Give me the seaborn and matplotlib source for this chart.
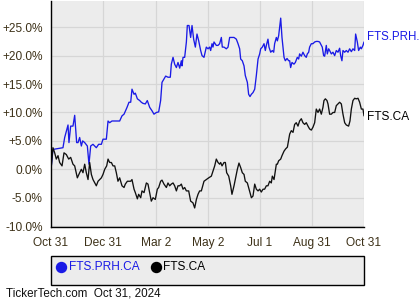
import matplotlib
matplotlib.use("Agg")
import matplotlib.pyplot as plt
from matplotlib.lines import Line2D
from matplotlib.patches import Rectangle
import pandas as pd
import seaborn as sns

# ---------------- data (percent change since Oct 31, 2023) ----------------
start_date = "2023-10-31"
end_date = "2024-10-31"

prh_name = "FTS.PRH.CA"
fts_name = "FTS.CA"

prh_days = [0, 2.3, 14.0, 16.0, 19.1, 19.9, 21.0, 23.0, 25.7, 27.7, 30.0, 31.6, 33.5, 35.5, 37.0, 39.4,
            42.5, 44.4, 46.4, 49.1, 53.0, 55.7, 58.9, 60.8, 64.7, 66.7, 68.6, 71.3, 80.3, 83.0, 85.4, 88.9,
            91.2, 93.2, 94.7, 97.1, 98.6, 101.0, 103.7, 105.6, 107.6, 110.3, 112.6, 115.4, 118.1, 120.4,
            123.2, 125.9, 128.2, 129.8, 132.1, 134.1, 136.8, 139.5, 140.7, 142.7, 144.6, 146.6, 148.5,
            150.5, 152.4, 153.2, 154.4, 156.3, 158.3, 159.4, 161.4, 163.3, 164.9, 166.8, 168.8, 170.7,
            172.7, 175.0, 176.6, 178.9, 181.6, 183.6, 185.5, 186.7, 188.3, 189.4, 190.6, 193.3, 195.3,
            197.2, 199.2, 200.3, 202.3, 205.0, 207.0, 208.9, 211.6, 214.0, 216.7, 218.7, 220.6, 221.8,
            223.7, 225.7, 227.2, 229.6, 231.1, 232.7, 234.3, 236.2, 238.2, 240.1, 242.1, 244.0, 245.2,
            247.1, 249.1, 250.6, 251.8, 253.7, 254.9, 256.9, 258.8, 260.4, 261.5, 263.5, 264.7, 266.2,
            267.4, 268.6, 270.1, 272.5, 274.0, 276.0, 277.9, 279.1, 280.2, 281.8, 284.1, 285.7, 288.0,
            289.6, 290.7, 292.7, 294.6, 296.6, 298.5, 299.7, 301.3, 302.4, 304.4, 306.3, 308.3, 310.2,
            312.2, 314.1, 316.1, 317.2, 318.8, 320.0, 321.9, 323.1, 324.7, 325.8, 327.8, 329.7, 331.7,
            333.6, 335.6, 337.5, 338.7, 340.2, 341.4, 343.4, 345.3, 347.3, 349.2, 351.2, 353.1, 355.1,
            356.2, 358.2, 359.7, 361.7, 362.9, 364.8, 366.0]
prh_vals = [0.0, 3.5, 3.8, 5.6, 7.4, 7.8, 4.7, 7.6, 7.6, 9.5, 4.7, 4.7, 5.6, 4.1, 5.0, 4.7,
            4.1, 0.9, 4.1, 4.4, 3.8, 4.4, 4.4, 5.3, 5.3, 8.5, 8.2, 8.5, 8.5, 9.4, 9.7, 10.9,
            11.8, 11.8, 14.1, 13.2, 13.4, 12.4, 12.1, 11.8, 11.6, 11.5, 12.1, 10.9, 10.3, 9.7,
            10.0, 10.1, 12.1, 15.3, 15.9, 16.4, 16.2, 16.2, 18.5, 19.7, 18.5, 17.9, 18.8,
            17.8, 19.1, 18.2, 19.7, 19.7, 22.4, 25.3, 25.3, 23.2, 25.3, 22.9, 21.5, 23.8,
            22.6, 20.9, 20.0, 19.7, 21.5, 21.2, 21.5, 20.9, 22.1, 21.5, 22.4, 21.8, 21.8,
            22.1, 23.2, 21.5, 21.5, 21.2, 21.5, 23.2, 23.2, 23.2, 22.9, 22.1, 21.2, 19.4,
            19.1, 18.2, 16.5, 15.3, 13.2, 12.8, 13.2, 13.5, 14.1, 16.5, 19.4, 20.3, 21.2,
            21.5, 22.1, 20.9, 21.8, 22.9, 21.5, 20.6, 20.9, 20.6, 22.1, 23.2, 22.6, 23.5,
            25.0, 26.6, 23.2, 19.7, 19.1, 19.5, 19.1, 19.1, 17.9, 18.8, 18.5, 18.8, 19.7,
            19.4, 20.3, 19.9, 20.6, 20.0, 19.7, 20.3, 20.6, 21.5, 22.1, 22.1, 22.4, 22.5,
            22.5, 22.4, 21.8, 21.5, 20.0, 19.9, 21.8, 20.3, 21.2, 20.9, 20.3, 20.6, 20.0,
            20.9, 20.6, 21.3, 20.0, 19.1, 20.9, 20.6, 20.9, 20.6, 21.2, 20.7, 21.2, 20.9,
            23.8, 22.4, 20.9, 21.5, 21.2, 21.8, 22.4]

fts_days = [0, 2.3, 4.3, 6.2, 8.2, 10.1, 12.9, 15.2, 17.9, 20.7, 23.0, 25.7, 27.7, 30.8, 33.5, 35.5,
            37.4, 39.4, 41.3, 43.3, 45.2, 47.2, 49.1, 53.0, 55.0, 56.9, 58.9, 60.8, 62.8, 65.1, 66.7,
            68.6, 70.6, 72.5, 74.5, 76.4, 78.3, 80.3, 83.0, 85.4, 86.9, 89.3, 93.2, 94.7, 97.1, 98.6,
            101.0, 102.5, 104.9, 106.4, 108.8, 111.5, 113.4, 115.4, 117.3, 119.3, 122.0, 124.3, 125.9,
            128.2, 129.8, 132.1, 134.9, 136.8, 138.8, 140.7, 142.7, 144.6, 146.6, 148.5, 150.5, 152.4,
            154.4, 156.3, 158.3, 161.0, 163.3, 166.0, 168.0, 170.0, 171.9, 173.8, 175.8, 178.9, 181.6,
            184.4, 187.5, 189.4, 191.4, 193.3, 195.3, 197.2, 198.4, 200.0, 202.3, 203.9, 205.4, 207.8,
            210.1, 211.6, 214.0, 215.5, 217.9, 219.8, 221.8, 223.7, 225.7, 227.2, 229.6, 231.1, 232.7,
            234.3, 236.2, 238.2, 240.1, 242.1, 244.0, 245.9, 247.9, 249.8, 251.8, 253.7, 255.7, 257.6,
            258.8, 260.8, 262.3, 263.5, 264.7, 266.2, 268.6, 270.1, 272.5, 274.4, 276.4, 279.1, 281.0,
            283.0, 284.9, 286.8, 288.8, 290.7, 292.7, 294.6, 296.6, 298.5, 300.5, 302.4, 304.4, 306.3,
            308.3, 310.2, 312.2, 314.1, 316.1, 318.0, 319.2, 320.8, 322.7, 323.9, 325.8, 327.8, 329.7,
            331.7, 333.6, 335.6, 337.5, 339.5, 341.4, 343.4, 345.3, 348.0, 349.6, 351.2, 353.1, 355.1,
            357.0, 359.0, 360.9, 362.9, 364.8, 366.0]
fts_vals = [0.0, 3.8, 2.9, 1.8, 2.4, 1.2, 0.6, 2.9, 2.6, 1.8, 2.1, 0.9, 0.6, -1.5, -0.6, 0.0,
            -0.6, 0.9, -0.6, -1.8, 1.2, -0.9, -1.8, -2.9, -2.1, -1.8, -1.5, -0.9, 0.0, 0.6, 1.8,
            1.2, 1.2, 0.6, 0.6, -0.6, -2.1, -1.5, -2.9, -3.2, -2.6, -2.1, -2.1, -1.8, -3.5, -4.1,
            -5.2, -4.4, -5.0, -3.8, -4.1, -2.4, -2.6, -4.1, -5.6, -5.0, -5.3, -3.5, -3.2,
            -2.1, -1.9, -2.6, -3.2, -2.4, -2.9, -2.6, -2.4, -2.9, -3.8, -2.9, -2.9, -2.6,
            -3.5, -3.2, -3.8, -3.8, -5.6, -5.9, -6.8, -5.3, -4.4, -3.8, -3.8, -2.1, -1.8,
            -1.5, -1.2, -0.3, 0.6, 1.8, 1.2, 0.9, 1.2, 0.6, 1.2, 1.2, -0.6, -1.2,
            -2.9, -4.4, -2.9, -1.8, 0.0, 1.1, 0.3, -0.6, -0.9, -2.1, -2.4, -3.2, -4.1,
            -5.0, -4.7, -2.6, -3.5, -3.8, -3.5, -4.0, -3.5, -3.5, -2.9, -2.9, -2.1, -2.4,
            -1.2, -1.8, -0.3, 0.9, 0.9, 1.5, 1.8, 2.4, 3.2, 3.6, 3.9, 6.2, 6.8,
            6.5, 7.9, 8.2, 7.6, 8.5, 8.9, 8.2, 7.9, 8.2, 7.6, 7.1, 6.9, 7.4,
            8.2, 10.6, 10.0, 10.6, 9.7, 10.9, 12.1, 12.4, 12.1, 11.5, 9.7, 9.7, 10.0,
            10.0, 11.2, 11.5, 11.8, 11.5, 9.7, 8.2, 7.8, 7.6, 8.5, 10.6, 12.1, 12.5,
            12.4, 12.5, 11.8, 10.6, 10.6, 9.4]

major_dates = ["2023-10-31", "2023-12-31", "2024-03-02", "2024-05-02", "2024-07-01", "2024-08-31", "2024-10-31"]
major_labels = ["Oct 31", "Dec 31", "Mar 2", "May 2", "Jul 1", "Aug 31", "Oct 31"]
minor_dates = ["2023-11-30", "2024-01-31", "2024-04-01", "2024-06-01", "2024-07-31", "2024-09-30"]
y_major = [-10, -5, 0, 5, 10, 15, 20, 25]
footer_text = "TickerTech.com  Oct 31, 2024"

# ---------------- build frame ----------------
t0 = pd.Timestamp(start_date)
df = pd.concat([
    pd.DataFrame({"date": t0 + pd.to_timedelta(prh_days, unit="D"), "pct": prh_vals, "sym": prh_name}),
    pd.DataFrame({"date": t0 + pd.to_timedelta(fts_days, unit="D"), "pct": fts_vals, "sym": fts_name}),
])

BLUE = "#1a1ae6"
BLACK = "#111111"
LABEL = "#3d3118"

sns.set_theme(style="white")
plt.rcParams["font.family"] = ["Liberation Sans", "DejaVu Sans"]

W, H = 420, 300
fig = plt.figure(figsize=(W / 100, H / 100), dpi=100)
fig.patch.set_facecolor("white")

def fx(px):
    return px / W

def fy(py):
    return 1 - py / H

ax = fig.add_axes([fx(51), fy(227), fx(364) - fx(51), fy(0.5) - fy(227)])
ax.set_facecolor("#ececec")

sns.lineplot(data=df, x="date", y="pct", hue="sym", palette={prh_name: BLUE, fts_name: BLACK},
             ax=ax, legend=False, linewidth=0.95, sort=True, estimator=None)

ax.set_xlim(pd.Timestamp(start_date), pd.Timestamp(end_date))
ax.set_ylim(-10.15, 29.7)

ax.set_xticks([pd.Timestamp(d) for d in major_dates])
ax.set_xticklabels(major_labels)
ax.set_xticks([pd.Timestamp(d) for d in minor_dates], minor=True)
ax.set_yticks(y_major)
ax.set_yticklabels([("+" if v > 0 else "") + f"{v:.1f}%" for v in y_major])
ax.set_yticks([v + 2.5 for v in y_major], minor=True)

ax.set_xlabel("")
ax.set_ylabel("")
ax.grid(True, which="major", color="#d6d6d6", linewidth=0.9)
ax.set_axisbelow(True)

for s in ["top", "right"]:
    ax.spines[s].set_visible(False)
for s in ["left", "bottom"]:
    ax.spines[s].set_visible(True)
    ax.spines[s].set_color("black")
    ax.spines[s].set_linewidth(1.0)

ax.tick_params(axis="both", which="both", direction="in", length=3.5, width=0.8, color="black",
               labelcolor=LABEL, labelsize=8.6)
ax.tick_params(axis="x", which="major", pad=7)
ax.tick_params(axis="y", which="major", pad=6)

# end labels on the right (the long one runs off the image edge, as in the original)
fig.text(fx(367.5), fy(37), prh_name, color=BLUE, fontsize=8.3, va="center", ha="left")
fig.text(fx(367.5), fy(117.5), fts_name, color="#000000", fontsize=8.6, va="center", ha="left")

# legend box
fig.add_artist(Rectangle((fx(50.5), fy(285)), fx(364) - fx(50.5), fy(255.5) - fy(285),
                         transform=fig.transFigure, facecolor="#ececec", edgecolor="black", linewidth=1.0))
leg_y = fy(267)
for mx, tx, name, col in [(60.7, 68.5, prh_name, BLUE), (155.5, 163.5, fts_name, "#000000")]:
    fig.add_artist(Line2D([fx(mx)], [leg_y], transform=fig.transFigure, marker="o", markersize=7.2,
                          color=col, linestyle="none"))
    fig.text(fx(tx), leg_y, name, color=col, fontsize=8.6, va="center", ha="left")

fig.text(fx(6), fy(294), footer_text, color="#111111", fontsize=8.4, va="center", ha="left")

fig.savefig("out.png", dpi=100)
